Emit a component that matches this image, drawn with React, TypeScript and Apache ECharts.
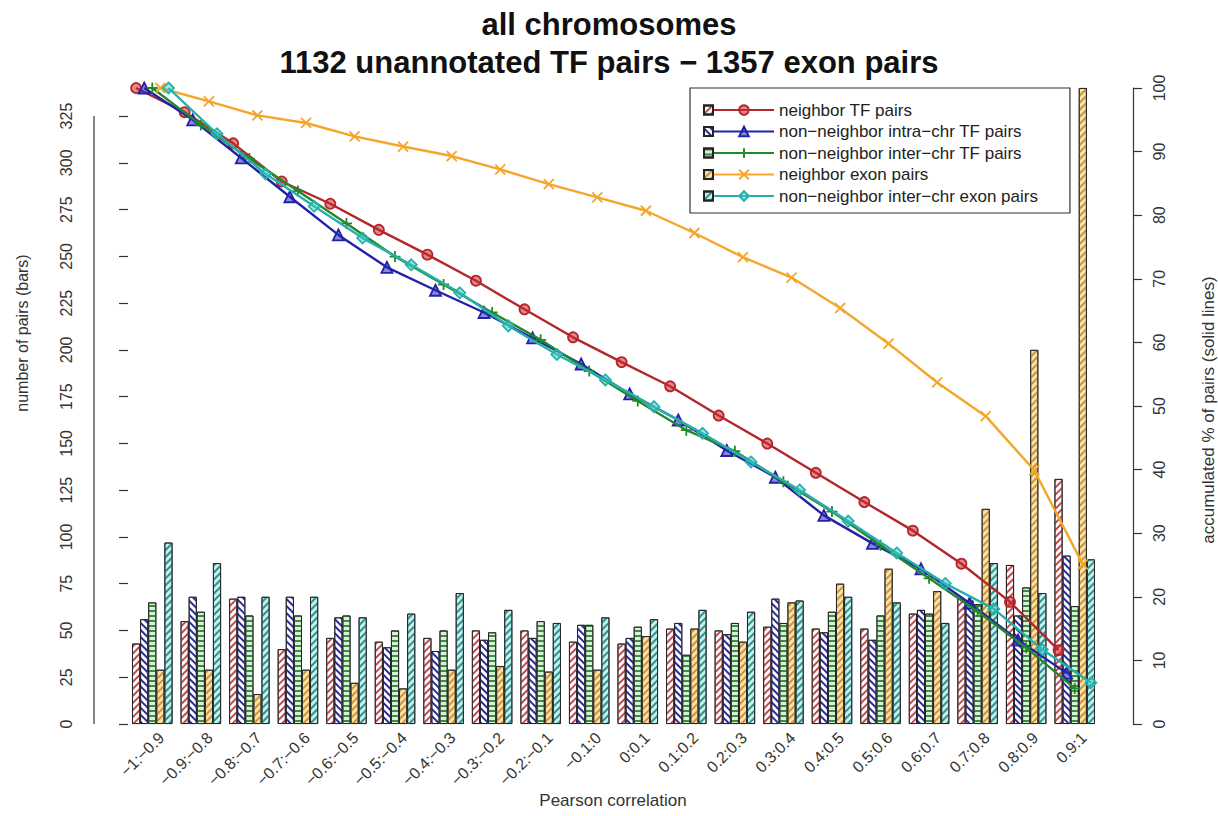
import React, { useEffect, useRef } from 'react';
import * as echarts from 'echarts';

const categories = ['−1:−0.9', '−0.9:−0.8', '−0.8:−0.7', '−0.7:−0.6', '−0.6:−0.5', '−0.5:−0.4', '−0.4:−0.3', '−0.3:−0.2', '−0.2:−0.1', '−0.1:0', '0:0.1', '0.1:0.2', '0.2:0.3', '0.3:0.4', '0.4:0.5', '0.5:0.6', '0.6:0.7', '0.7:0.8', '0.8:0.9', '0.9:1'];

const seriesNames = ['neighbor TF pairs', 'non−neighbor intra−chr TF pairs', 'non−neighbor inter−chr TF pairs', 'neighbor exon pairs', 'non−neighbor inter−chr exon pairs'];

// bar counts (left axis)
const barNeighborTF = [43, 55, 67, 40, 46, 44, 46, 50, 50, 44, 43, 51, 50, 52, 51, 51, 59, 67, 85, 131];
const barIntraTF = [56, 68, 68, 68, 57, 41, 39, 45, 46, 53, 46, 54, 48, 67, 49, 45, 61, 66, 58, 90];
const barInterTF = [65, 60, 58, 58, 58, 50, 50, 49, 55, 53, 52, 37, 54, 54, 60, 58, 59, 64, 73, 63];
const barNeighborExon = [29, 29, 16, 29, 22, 19, 29, 31, 28, 29, 47, 51, 44, 65, 75, 83, 71, 115, 200, 340];
const barInterExon = [97, 86, 68, 68, 57, 59, 70, 61, 54, 57, 56, 61, 60, 66, 68, 65, 54, 86, 70, 88];

// accumulated % (right axis)
const pctNeighborTF = [100, 96.2, 91.3, 85.3, 81.8, 77.7, 73.8, 69.7, 65.2, 60.8, 56.9, 53.1, 48.5, 44.1, 39.5, 34.9, 30.4, 25.2, 19.2, 11.6];
const pctIntraTF = [100, 95.0, 89.0, 82.9, 76.9, 71.8, 68.2, 64.7, 60.7, 56.6, 51.9, 47.8, 43.0, 38.8, 32.8, 28.4, 24.4, 19.0, 13.2, 8.0];
const pctInterTF = [100, 94.2, 88.9, 83.8, 78.7, 73.5, 69.1, 64.7, 60.4, 55.5, 50.8, 46.2, 42.9, 38.1, 33.4, 28.1, 22.9, 17.7, 12.0, 5.6];
const pctNeighborExon = [100, 97.9, 95.7, 94.5, 92.4, 90.8, 89.3, 87.2, 84.9, 82.8, 80.7, 77.2, 73.4, 70.2, 65.4, 59.8, 53.7, 48.4, 39.9, 25.1];
const pctInterExon = [100, 92.8, 86.5, 81.4, 76.4, 72.2, 67.8, 62.6, 58.1, 54.1, 49.9, 45.7, 41.2, 36.8, 31.9, 26.9, 22.1, 18.1, 11.7, 6.5];

const leftTicks = [0, 25, 50, 75, 100, 125, 150, 175, 200, 225, 250, 275, 300, 325];
const leftMax = 340;
const rightTicksInterval = 10;

const FONT = '"Liberation Sans", Arial, Helvetica, sans-serif';
const lineColors = ['#b3262c', '#2222a8', '#23882c', '#f4a62a', '#26b0ab'];
const symbolFill = ['rgba(200,40,45,0.55)', 'rgba(40,40,190,0.55)', '#23882c', '#f4a62a', 'rgba(60,200,195,0.45)'];
const symbols = ['circle', 'triangle', 'path://M5 0V10M0 5H10', 'path://M0 0L10 10M10 0L0 10', 'diamond'];
const symbolSizes = [10, 11, 11, 10, 11];
const barFill = ['#ffffff', '#ffffff', '#d8f1d8', '#fde2a6', '#c6f0ee'];
const hatchColor = ['#c24a4f', '#2c2ca0', '#3d8a43', '#c99440', '#2e918c'];
const hatchRot = [-Math.PI / 4, Math.PI / 4, 0, -Math.PI / 4, -Math.PI / 4];

const GRID_L = 128;
const GRID_R = 119;
const GRID_T = 88;
const GRID_B = 92;
const AXIS_OFF = 34;
const CAT_GAP = 1 / 6;

export default function App() {
  const ref = useRef<HTMLDivElement>(null);
  useEffect(() => {
    const chart = echarts.init(ref.current!, null, { renderer: 'svg' });
    const barData = [barNeighborTF, barIntraTF, barInterTF, barNeighborExon, barInterExon];
    const pctData = [pctNeighborTF, pctIntraTF, pctInterTF, pctNeighborExon, pctInterExon];
    const nSeries = barData.length;
    const barW = (1 - CAT_GAP) / nSeries;
    const barNames = seriesNames.map((n) => n + ' (bars)');

    const barSeries = barData.map((d, k) => ({
      type: 'bar',
      name: barNames[k],
      data: d,
      xAxisIndex: 0,
      yAxisIndex: 0,
      barGap: '0%',
      barCategoryGap: (CAT_GAP * 100).toFixed(3) + '%',
      silent: true,
      z: 2,
      itemStyle: {
        color: barFill[k],
        borderColor: '#222',
        borderWidth: 0.9,
        decal: {
          symbol: 'rect',
          symbolSize: 1,
          color: hatchColor[k],
          dashArrayX: [1, 0],
          dashArrayY: [1.4, 2.6],
          rotation: hatchRot[k],
        },
      },
    }));

    const lineSeries = pctData.map((d, k) => ({
      type: 'line',
      name: seriesNames[k],
      data: d.map((v, i) => [i + CAT_GAP / 2 + (k + 0.5) * barW, v]),
      xAxisIndex: 1,
      yAxisIndex: 1,
      symbol: symbols[k],
      symbolSize: symbolSizes[k],
      showSymbol: true,
      silent: true,
      z: 3 + k,
      lineStyle: { color: lineColors[k], width: 2.4 },
      itemStyle: { color: symbolFill[k], borderColor: lineColors[k], borderWidth: 1.8 },
    }));

    const axisColor = '#333';
    const option: any = {
      animation: false,
      backgroundColor: '#ffffff',
      textStyle: { fontFamily: FONT },
      title: {
        text: 'all chromosomes\n1132 unannotated TF pairs − 1357 exon pairs',
        left: 'center',
        top: 5,
        padding: 0,
        textStyle: { fontFamily: FONT, fontSize: 31, fontWeight: 'bold', color: '#111', lineHeight: 38 },
      },
      grid: { left: GRID_L, right: GRID_R, top: GRID_T, bottom: GRID_B, containLabel: false, outerBoundsMode: 'none' },
      xAxis: [
        {
          type: 'category',
          data: categories,
          axisLine: { show: false },
          axisTick: { show: false },
          axisLabel: { rotate: 45, interval: 0, fontSize: 16, color: axisColor, margin: 2, verticalAlign: 'top', lineHeight: 26, fontFamily: FONT },
        },
        { type: 'value', min: 0, max: categories.length, show: false },
      ],
      yAxis: [
        {
          type: 'value',
          min: 0,
          max: leftMax,
          position: 'left',
          offset: AXIS_OFF,
          axisLine: { show: false },
          axisTick: { show: true, length: 9, customValues: leftTicks, lineStyle: { color: axisColor, width: 1.2 } },
          axisLabel: { customValues: leftTicks, rotate: 90, margin: 20, fontSize: 16, color: axisColor, fontFamily: FONT },
          splitLine: { show: false },
        },
        {
          type: 'value',
          min: 0,
          max: 100,
          interval: rightTicksInterval,
          position: 'right',
          offset: AXIS_OFF,
          axisLine: { show: true, lineStyle: { color: axisColor, width: 1.2 } },
          axisTick: { show: true, length: 9, lineStyle: { color: axisColor, width: 1.2 } },
          axisLabel: { rotate: 90, margin: 18, fontSize: 16, color: axisColor, fontFamily: FONT },
          splitLine: { show: false },
        },
      ],
      legend: [
        {
          data: seriesNames,
          orient: 'vertical',
          left: 690,
          top: 88,
          padding: [13, 32, 8, 23],
          itemWidth: 60,
          itemHeight: 12,
          itemGap: 3.5,
          selectedMode: false,
          backgroundColor: '#ffffff',
          borderColor: '#333',
          borderWidth: 1.2,
          borderRadius: 0,
          z: 4,
          textStyle: { fontSize: 17, lineHeight: 18, color: '#222', fontFamily: FONT },
        },
        {
          data: barNames,
          orient: 'vertical',
          left: 703,
          top: 101,
          padding: 0,
          icon: 'rect',
          itemWidth: 9,
          itemHeight: 9,
          itemGap: 3.5,
          selectedMode: false,
          z: 6,
          formatter: () => ' ',
          textStyle: { fontSize: 17, lineHeight: 18, fontFamily: FONT },
        },
      ],
      graphic: [
        {
          type: 'text',
          x: 22,
          y: 333,
          rotation: Math.PI / 2,
          style: { text: 'number of pairs (bars)', fill: axisColor, font: '16px ' + FONT, textAlign: 'center', textVerticalAlign: 'middle', align: 'center', verticalAlign: 'middle' },
        },
        {
          type: 'text',
          x: 1208,
          y: 410,
          rotation: Math.PI / 2,
          style: { text: 'accumulated % of pairs (solid lines)', fill: axisColor, font: '17px ' + FONT, textAlign: 'center', textVerticalAlign: 'middle', align: 'center', verticalAlign: 'middle' },
        },
        {
          type: 'text',
          x: 613,
          y: 800,
          style: { text: 'Pearson correlation', fill: axisColor, font: '17px ' + FONT, textAlign: 'center', textVerticalAlign: 'middle', align: 'center', verticalAlign: 'middle' },
        },
      ],
      series: [...barSeries, ...lineSeries],
    };
    chart.setOption(option);

    const yBottom = chart.convertToPixel({ yAxisIndex: 0 } as any, leftTicks[0]) as unknown as number;
    const yTop = chart.convertToPixel({ yAxisIndex: 0 } as any, leftTicks[leftTicks.length - 1]) as unknown as number;
    const axisX = GRID_L - AXIS_OFF;
    chart.setOption({
      graphic: [
        ...option.graphic,
        {
          type: 'line',
          shape: { x1: axisX, y1: yBottom, x2: axisX, y2: yTop },
          style: { stroke: axisColor, lineWidth: 1.2 },
        },
      ],
    });

    return () => chart.dispose();
  }, []);
  return <div ref={ref} style={{ position: 'absolute', left: 0, top: 0, width: 1218, height: 816, background: '#fff' }} />;
}
